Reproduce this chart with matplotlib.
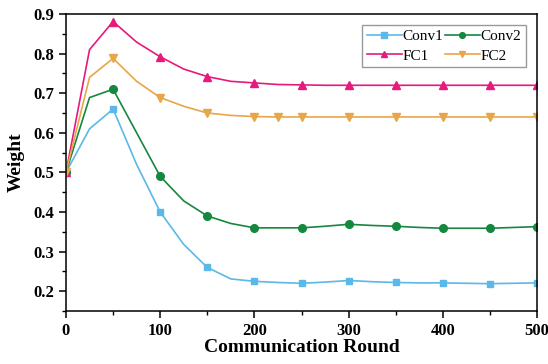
import matplotlib
matplotlib.use("Agg")
import matplotlib.pyplot as plt
from matplotlib.ticker import MultipleLocator

plt.rcParams["font.family"] = ["Liberation Serif", "DejaVu Serif"]

rounds = [0, 25, 50, 75, 100, 125, 150, 175, 200, 225, 250, 275, 300,
          325, 350, 375, 400, 425, 450, 475, 500]
conv1 = [0.50, 0.61, 0.66, 0.52, 0.40, 0.318, 0.26, 0.231, 0.225, 0.222, 0.220,
         0.223, 0.227, 0.224, 0.222, 0.221, 0.221, 0.220, 0.219, 0.220, 0.221]
conv2 = [0.50, 0.689, 0.71, 0.60, 0.49, 0.428, 0.39, 0.371, 0.360, 0.360, 0.360,
         0.364, 0.369, 0.366, 0.364, 0.361, 0.359, 0.359, 0.359, 0.361, 0.363]
fc1 = [0.50, 0.81, 0.881, 0.829, 0.792, 0.761, 0.742, 0.730, 0.726, 0.722, 0.721,
       0.720, 0.720, 0.720, 0.720, 0.720, 0.720, 0.720, 0.720, 0.720, 0.720]
fc2 = [0.50, 0.74, 0.788, 0.73, 0.689, 0.667, 0.650, 0.644, 0.641, 0.640, 0.640,
       0.640, 0.640, 0.640, 0.640, 0.640, 0.640, 0.640, 0.640, 0.640, 0.640]

every50 = list(range(0, len(rounds), 2))
fc2_marks = sorted(every50 + [9])

fig = plt.figure(figsize=(5.48, 3.64), dpi=100)
ax = fig.add_axes([0.1204, 0.1456, 0.8596, 0.8159])

lw = 1.2
l1, = ax.plot(rounds, conv1, "-s", color="#5bb8e8", lw=lw, ms=5, markevery=every50, label="Conv1")
l2, = ax.plot(rounds, conv2, "-o", color="#16873f", lw=lw, ms=5.5, markevery=every50, label="Conv2")
l3, = ax.plot(rounds, fc1, "-^", color="#e8197d", lw=lw, ms=6, markevery=every50, label="FC1")
l4, = ax.plot(rounds, fc2, "-v", color="#e8a648", lw=lw, ms=6, markevery=fc2_marks, label="FC2")

ax.set_xlim(0, 500)
ax.set_ylim(0.15, 0.9)
ax.xaxis.set_major_locator(MultipleLocator(100))
ax.xaxis.set_minor_locator(MultipleLocator(50))
ax.yaxis.set_major_locator(MultipleLocator(0.1))
ax.yaxis.set_minor_locator(MultipleLocator(0.05))
ax.tick_params(which="both", direction="out", top=False, right=False)
ax.tick_params(which="major", length=5, width=1.1, labelsize=12)
ax.tick_params(which="minor", length=3, width=1.0)
for lab in ax.get_xticklabels() + ax.get_yticklabels():
    lab.set_fontweight("bold")
for sp in ax.spines.values():
    sp.set_linewidth(1.1)

ax.set_xlabel("Communication Round", fontsize=14, fontweight="bold", labelpad=0)
ax.set_ylabel("Weight", fontsize=14, fontweight="bold", labelpad=6)

# row-wise order: Conv1 Conv2 / FC1 FC2
leg = ax.legend([l1, l3, l2, l4], ["Conv1", "FC1", "Conv2", "FC2"],
                loc="upper right", ncol=2, fontsize=11, frameon=True, fancybox=False,
                edgecolor="#808080", handlelength=2.3, handletextpad=0.05,
                columnspacing=0.1, borderpad=0.3, labelspacing=0.4,
                markerscale=0.75, bbox_to_anchor=(0.993, 0.99))
leg.get_frame().set_linewidth(1.0)

fig.savefig("out.png", dpi=100)
